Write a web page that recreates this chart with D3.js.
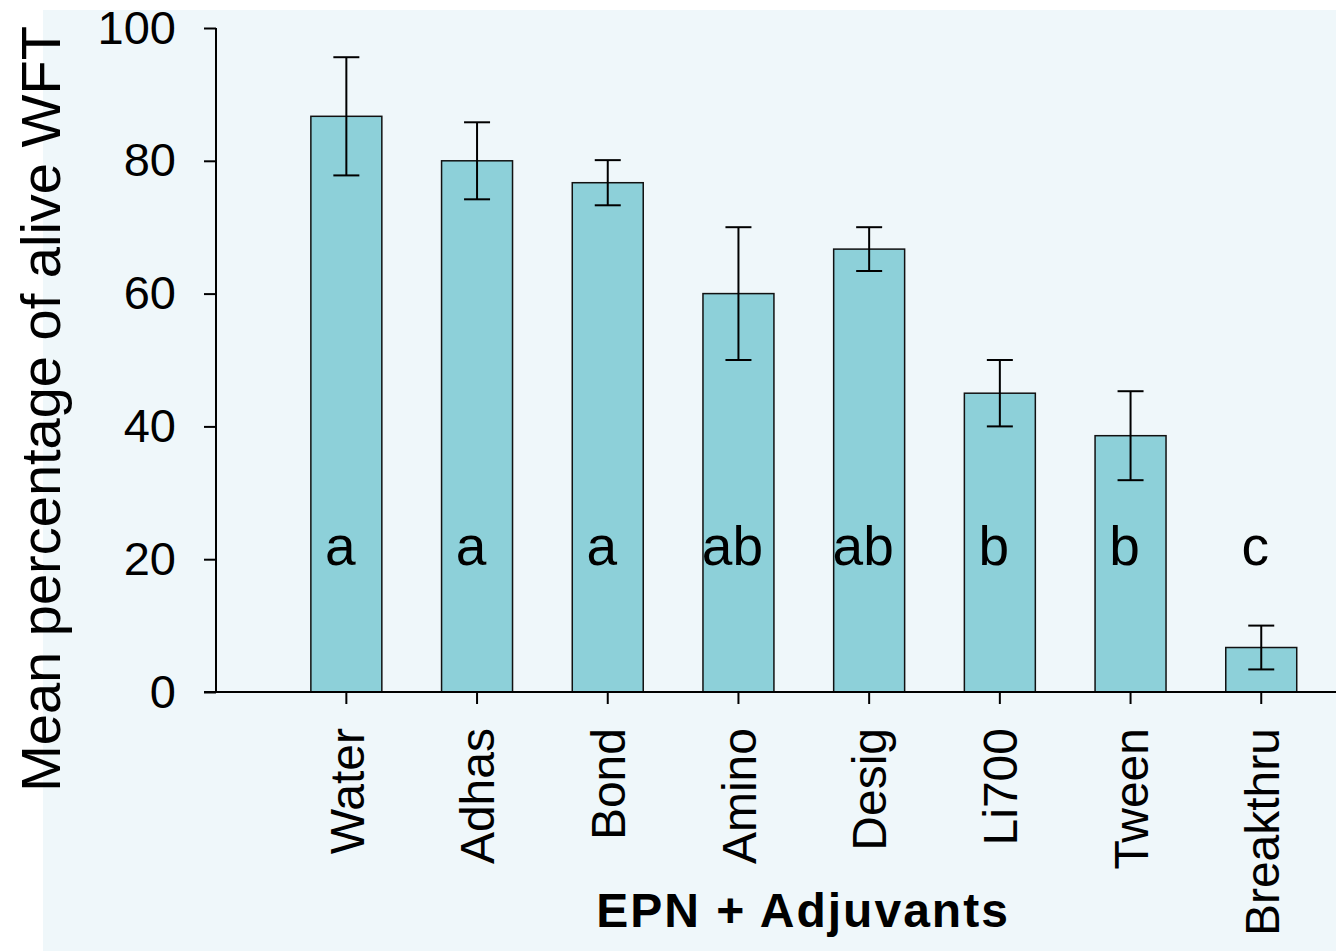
<!DOCTYPE html>
<html>
<head>
<meta charset="utf-8">
<script src="https://cdn.jsdelivr.net/npm/d3@7"></script>
<style>
  html, body { margin: 0; padding: 0; background: #ffffff; }
  svg { display: block; }
  text { font-family: "Liberation Sans", Arial, Helvetica, sans-serif; fill: #000; }
</style>
</head>
<body>
<svg id="chart" width="1336" height="951"></svg>
<script>
// Treatments: entomopathogenic nematodes applied with different adjuvants
const categories = ["Water", "Adhas", "Bond", "Amino", "Desig", "Li700", "Tween", "Breakthru"];
const means      = [86.7, 80.0, 76.7, 60.0, 66.7, 45.0, 38.6, 6.7];
const errors     = [8.9, 5.8, 3.4, 10.0, 3.3, 5.0, 6.7, 3.3];
const groups     = ["a", "a", "a", "ab", "ab", "b", "b", "c"];
const yTicks     = [0, 20, 40, 60, 80, 100];

const svg = d3.select("#chart");

// Light panel behind the plot
svg.append("rect")
  .attr("x", 43).attr("y", 10)
  .attr("width", 1336 - 43).attr("height", 951 - 10)
  .attr("fill", "#eff7fa");

const y = d3.scaleLinear().domain([0, 100]).range([692, 28]);
const x = d3.scaleBand()
  .domain(categories)
  .range([281, 1326.6])
  .paddingInner(0.457)
  .paddingOuter(0.2285);

const axisX0 = 216;

// Bars
svg.append("g").selectAll("rect")
  .data(categories)
  .join("rect")
  .attr("x", d => x(d))
  .attr("y", (d, i) => y(means[i]))
  .attr("width", x.bandwidth())
  .attr("height", (d, i) => y(0) - y(means[i]))
  .attr("fill", "#8dd0d9")
  .attr("stroke", "#111")
  .attr("stroke-width", 1.5);

// Error bars
const eb = svg.append("g").attr("stroke", "#000").attr("stroke-width", 2);
categories.forEach((c, i) => {
  const cx = x(c) + x.bandwidth() / 2;
  const hi = y(means[i] + errors[i]);
  const lo = y(means[i] - errors[i]);
  eb.append("line").attr("x1", cx).attr("x2", cx).attr("y1", hi).attr("y2", lo);
  eb.append("line").attr("x1", cx - 13).attr("x2", cx + 13).attr("y1", hi).attr("y2", hi);
  eb.append("line").attr("x1", cx - 13).attr("x2", cx + 13).attr("y1", lo).attr("y2", lo);
});

// Significance letters
svg.append("g").selectAll("text")
  .data(categories)
  .join("text")
  .attr("x", d => x(d) + x.bandwidth() / 2 - 6)
  .attr("y", 565)
  .attr("text-anchor", "middle")
  .attr("font-size", 55)
  .text((d, i) => groups[i]);

// Y axis
const yAxis = d3.axisLeft(y).tickValues(yTicks).tickSize(12).tickPadding(28);
const gy = svg.append("g").attr("transform", `translate(${axisX0},0)`).call(yAxis);
gy.select(".domain").attr("d", `M0,${y(100)}V${y(0)}`).attr("stroke-width", 2);
gy.selectAll(".tick line").attr("stroke-width", 2);
gy.selectAll(".tick text").attr("font-size", 47)
  .attr("font-family", '"Liberation Sans", Arial, sans-serif');

// X axis baseline
svg.append("line")
  .attr("x1", axisX0 - 12).attr("x2", 1336)
  .attr("y1", y(0)).attr("y2", y(0))
  .attr("stroke", "#000").attr("stroke-width", 2);

// X ticks and rotated category labels
const xAxis = d3.axisBottom(x).tickSize(12).tickSizeOuter(0);
const gx = svg.append("g").attr("transform", `translate(0,${y(0)})`).call(xAxis);
gx.select(".domain").remove();
gx.selectAll(".tick text")
  .attr("font-size", 48)
  .attr("font-family", '"Liberation Sans", Arial, sans-serif')
  .attr("transform", "rotate(-90)")
  .attr("text-anchor", "end")
  .attr("x", -36)
  .attr("y", 0)
  .attr("dy", "0.36em");
gx.selectAll(".tick line").attr("stroke-width", 2);

// Axis titles
svg.append("text")
  .attr("transform", "translate(60,409) rotate(-90)")
  .attr("text-anchor", "middle")
  .attr("font-size", 56)
  .text("Mean percentage of alive WFT");

svg.append("text")
  .attr("x", 803)
  .attr("y", 927)
  .attr("text-anchor", "middle")
  .attr("font-size", 48)
  .attr("font-weight", "bold")
  .attr("letter-spacing", 2)
  .text("EPN + Adjuvants");
</script>
</body>
</html>
